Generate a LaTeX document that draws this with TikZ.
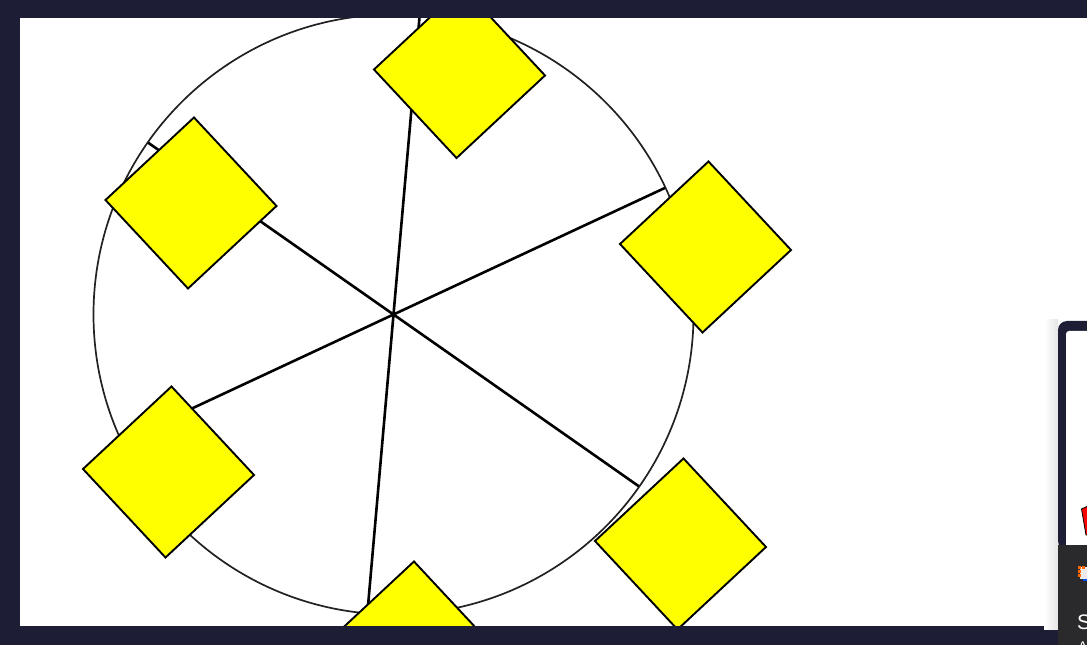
\documentclass[tikz,border=0pt]{standalone}
\usepackage{fontspec}
\setmainfont{Liberation Sans}
\usetikzlibrary{shapes.geometric,calc}
\definecolor{framenavy}{HTML}{1D1E36}
\definecolor{panelgray}{HTML}{2A2A2C}
\definecolor{diayellow}{HTML}{FFFF00}
\definecolor{circlegray}{HTML}{222222}
\tikzset{
  rim/.style={draw=circlegray, line width=1.7pt},
  spoke/.style={draw=black, line width=2.6pt},
  tile/.style={rectangle, draw=black, fill=diayellow, line width=1.9pt,
    minimum width=121pt, minimum height=121pt, inner sep=0pt, rotate=43},
  band/.style={fill=framenavy, draw=none}
}
\begin{document}
\begin{tikzpicture}[x=1pt,y=1pt]
\useasboundingbox (0,0) rectangle (1087,645);
\clip (0,0) rectangle (1087,645);
\fill[white] (0,0) rectangle (1087,645);
% wheel
\coordinate (c) at (393.5,330.5);
\node[circle, rim, minimum size=600pt, inner sep=0pt] (wheel) at (c) {};
\foreach \a [count=\i] in {85,25,-35,-95,-155,145}{
  \coordinate (e\i) at ($(c)+(\a:299.5)$);
}
\draw[spoke] (c) -- (e1);
\draw[spoke] (c) -- (e2);
\draw[spoke] (c) -- (e3);
\draw[spoke] (c) -- (e4);
\draw[spoke] (c) -- (e5);
\draw[spoke] (c) -- (e6);
% tiles
\node[tile] (t1) at (459.5,572.5) {};
\node[tile] (t2) at (191,442) {};
\node[tile] (t3) at (705.5,398) {};
\node[tile] (t4) at (168.5,173) {};
\node[tile] (t5) at (680.5,101) {};
\node[tile] (t6) at (411,-2) {};
% frame
\path[band] (0,627) rectangle (1087,645);
\path[band] (0,0) rectangle (20,645);
\path[band] (0,0) rectangle (1058,19);
% right side panel
\shade[left color=white, right color=black!10] (1044,15) rectangle (1058,325);
\path[band, rounded corners=9pt] (1058,95) rectangle (1100,324);
\fill[white, rounded corners=3pt] (1066,95) rectangle (1100,314);
\fill[panelgray] (1058,-5) rectangle (1100,100);
\filldraw[fill=red, draw=black, line width=0.8pt] (1081.5,136) -- (1088,139) -- (1088,110) -- (1086,110) -- cycle;
\fill[black!8] (1080,66) rectangle (1090,78);
\fill[orange!80!red] (1078,76) rectangle (1081,79);
\fill[orange!80!red] (1082,76) rectangle (1085,79);
\fill[orange!80!red] (1078,72) rectangle (1081,75);
\fill[orange!80!red] (1078,68) rectangle (1081,71);
\fill[blue!70!cyan] (1083,64) rectangle (1088,65.5);
\node[anchor=base west, text=white, font=\fontsize{21}{21}\selectfont, inner sep=0pt] (s) at (1077,15) {S};
\node[anchor=base west, text=white, font=\fontsize{14}{14}\selectfont, inner sep=0pt] (a) at (1078,-7) {A};
\end{tikzpicture}
\end{document}
